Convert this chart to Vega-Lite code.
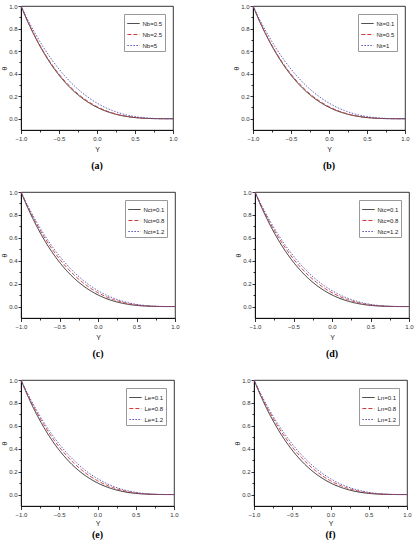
{
"$schema":"https://vega.github.io/schema/vega-lite/v6.json",
"padding":{"left":0,"top":2,"right":0,"bottom":0},
"background":"white",
"config":{"font":"Liberation Sans","view":{"stroke":"black","strokeWidth":0.8},
"axis":{"domainColor":"black","domainWidth":0.8,"tickColor":"black","tickWidth":0.8,"grid":false,"labelFontSize":6,"labelColor":"#333","labelFont":"Liberation Sans","titleFont":"Liberation Sans","titleFontSize":7,"titleFontWeight":"normal","titleColor":"#222","labelOverlap":false,"labelFlush":false,"labelBound":false,"labelPadding":1.5},
"legend":{"title":null,"orient":"top-right","offset":8,"padding":2.5,"strokeColor":"#999","fillColor":"white","symbolType":"stroke","symbolSize":150,"symbolStrokeWidth":1,"labelFontSize":6,"labelColor":"#222","rowPadding":1,"labelOffset":2}},
"datasets":{
"a":[
{"s":"Nb=0.5","Y":-1,"v":1},{"s":"Nb=0.5","Y":-0.9,"v":0.8443},{"s":"Nb=0.5","Y":-0.8,"v":0.7063},{"s":"Nb=0.5","Y":-0.7,"v":0.5849},{"s":"Nb=0.5","Y":-0.6,"v":0.4788},{"s":"Nb=0.5","Y":-0.5,"v":0.387},{"s":"Nb=0.5","Y":-0.4,"v":0.3082},{"s":"Nb=0.5","Y":-0.3,"v":0.2413},{"s":"Nb=0.5","Y":-0.2,"v":0.1853},{"s":"Nb=0.5","Y":-0.1,"v":0.1391},{"s":"Nb=0.5","Y":0,"v":0.1015},{"s":"Nb=0.5","Y":0.1,"v":0.0717},{"s":"Nb=0.5","Y":0.2,"v":0.0486},{"s":"Nb=0.5","Y":0.3,"v":0.0313},{"s":"Nb=0.5","Y":0.4,"v":0.0188},{"s":"Nb=0.5","Y":0.5,"v":0.0103},{"s":"Nb=0.5","Y":0.6,"v":0.0049},{"s":"Nb=0.5","Y":0.7,"v":0.0019},{"s":"Nb=0.5","Y":0.8,"v":0.0005},{"s":"Nb=0.5","Y":0.9,"v":0},{"s":"Nb=0.5","Y":1,"v":0},
{"s":"Nb=2.5","Y":-1,"v":1},{"s":"Nb=2.5","Y":-0.9,"v":0.8477},{"s":"Nb=2.5","Y":-0.8,"v":0.7123},{"s":"Nb=2.5","Y":-0.7,"v":0.5926},{"s":"Nb=2.5","Y":-0.6,"v":0.4875},{"s":"Nb=2.5","Y":-0.5,"v":0.396},{"s":"Nb=2.5","Y":-0.4,"v":0.3171},{"s":"Nb=2.5","Y":-0.3,"v":0.2498},{"s":"Nb=2.5","Y":-0.2,"v":0.193},{"s":"Nb=2.5","Y":-0.1,"v":0.1459},{"s":"Nb=2.5","Y":0,"v":0.1073},{"s":"Nb=2.5","Y":0.1,"v":0.0764},{"s":"Nb=2.5","Y":0.2,"v":0.0523},{"s":"Nb=2.5","Y":0.3,"v":0.034},{"s":"Nb=2.5","Y":0.4,"v":0.0207},{"s":"Nb=2.5","Y":0.5,"v":0.0115},{"s":"Nb=2.5","Y":0.6,"v":0.0056},{"s":"Nb=2.5","Y":0.7,"v":0.0022},{"s":"Nb=2.5","Y":0.8,"v":0.0006},{"s":"Nb=2.5","Y":0.9,"v":0.0001},{"s":"Nb=2.5","Y":1,"v":0},
{"s":"Nb=5","Y":-1,"v":1},{"s":"Nb=5","Y":-0.9,"v":0.864},{"s":"Nb=5","Y":-0.8,"v":0.7406},{"s":"Nb=5","Y":-0.7,"v":0.6293},{"s":"Nb=5","Y":-0.6,"v":0.5294},{"s":"Nb=5","Y":-0.5,"v":0.4405},{"s":"Nb=5","Y":-0.4,"v":0.3619},{"s":"Nb=5","Y":-0.3,"v":0.293},{"s":"Nb=5","Y":-0.2,"v":0.2332},{"s":"Nb=5","Y":-0.1,"v":0.182},{"s":"Nb=5","Y":0,"v":0.1387},{"s":"Nb=5","Y":0.1,"v":0.1027},{"s":"Nb=5","Y":0.2,"v":0.0734},{"s":"Nb=5","Y":0.3,"v":0.0502},{"s":"Nb=5","Y":0.4,"v":0.0323},{"s":"Nb=5","Y":0.5,"v":0.0192},{"s":"Nb=5","Y":0.6,"v":0.0102},{"s":"Nb=5","Y":0.7,"v":0.0045},{"s":"Nb=5","Y":0.8,"v":0.0014},{"s":"Nb=5","Y":0.9,"v":0.0002},{"s":"Nb=5","Y":1,"v":0}
],
"b":[
{"s":"Nt=0.1","Y":-1,"v":1},{"s":"Nt=0.1","Y":-0.9,"v":0.8443},{"s":"Nt=0.1","Y":-0.8,"v":0.7063},{"s":"Nt=0.1","Y":-0.7,"v":0.5849},{"s":"Nt=0.1","Y":-0.6,"v":0.4788},{"s":"Nt=0.1","Y":-0.5,"v":0.387},{"s":"Nt=0.1","Y":-0.4,"v":0.3082},{"s":"Nt=0.1","Y":-0.3,"v":0.2413},{"s":"Nt=0.1","Y":-0.2,"v":0.1853},{"s":"Nt=0.1","Y":-0.1,"v":0.1391},{"s":"Nt=0.1","Y":0,"v":0.1015},{"s":"Nt=0.1","Y":0.1,"v":0.0717},{"s":"Nt=0.1","Y":0.2,"v":0.0486},{"s":"Nt=0.1","Y":0.3,"v":0.0313},{"s":"Nt=0.1","Y":0.4,"v":0.0188},{"s":"Nt=0.1","Y":0.5,"v":0.0103},{"s":"Nt=0.1","Y":0.6,"v":0.0049},{"s":"Nt=0.1","Y":0.7,"v":0.0019},{"s":"Nt=0.1","Y":0.8,"v":0.0005},{"s":"Nt=0.1","Y":0.9,"v":0},{"s":"Nt=0.1","Y":1,"v":0},
{"s":"Nt=0.5","Y":-1,"v":1},{"s":"Nt=0.5","Y":-0.9,"v":0.8477},{"s":"Nt=0.5","Y":-0.8,"v":0.7123},{"s":"Nt=0.5","Y":-0.7,"v":0.5926},{"s":"Nt=0.5","Y":-0.6,"v":0.4875},{"s":"Nt=0.5","Y":-0.5,"v":0.396},{"s":"Nt=0.5","Y":-0.4,"v":0.3171},{"s":"Nt=0.5","Y":-0.3,"v":0.2498},{"s":"Nt=0.5","Y":-0.2,"v":0.193},{"s":"Nt=0.5","Y":-0.1,"v":0.1459},{"s":"Nt=0.5","Y":0,"v":0.1073},{"s":"Nt=0.5","Y":0.1,"v":0.0764},{"s":"Nt=0.5","Y":0.2,"v":0.0523},{"s":"Nt=0.5","Y":0.3,"v":0.034},{"s":"Nt=0.5","Y":0.4,"v":0.0207},{"s":"Nt=0.5","Y":0.5,"v":0.0115},{"s":"Nt=0.5","Y":0.6,"v":0.0056},{"s":"Nt=0.5","Y":0.7,"v":0.0022},{"s":"Nt=0.5","Y":0.8,"v":0.0006},{"s":"Nt=0.5","Y":0.9,"v":0.0001},{"s":"Nt=0.5","Y":1,"v":0},
{"s":"Nt=1","Y":-1,"v":1},{"s":"Nt=1","Y":-0.9,"v":0.864},{"s":"Nt=1","Y":-0.8,"v":0.7406},{"s":"Nt=1","Y":-0.7,"v":0.6293},{"s":"Nt=1","Y":-0.6,"v":0.5294},{"s":"Nt=1","Y":-0.5,"v":0.4405},{"s":"Nt=1","Y":-0.4,"v":0.3619},{"s":"Nt=1","Y":-0.3,"v":0.293},{"s":"Nt=1","Y":-0.2,"v":0.2332},{"s":"Nt=1","Y":-0.1,"v":0.182},{"s":"Nt=1","Y":0,"v":0.1387},{"s":"Nt=1","Y":0.1,"v":0.1027},{"s":"Nt=1","Y":0.2,"v":0.0734},{"s":"Nt=1","Y":0.3,"v":0.0502},{"s":"Nt=1","Y":0.4,"v":0.0323},{"s":"Nt=1","Y":0.5,"v":0.0192},{"s":"Nt=1","Y":0.6,"v":0.0102},{"s":"Nt=1","Y":0.7,"v":0.0045},{"s":"Nt=1","Y":0.8,"v":0.0014},{"s":"Nt=1","Y":0.9,"v":0.0002},{"s":"Nt=1","Y":1,"v":0}
],
"c":[
{"s":"Nct=0.1","Y":-1,"v":1},{"s":"Nct=0.1","Y":-0.9,"v":0.8443},{"s":"Nct=0.1","Y":-0.8,"v":0.7063},{"s":"Nct=0.1","Y":-0.7,"v":0.5849},{"s":"Nct=0.1","Y":-0.6,"v":0.4788},{"s":"Nct=0.1","Y":-0.5,"v":0.387},{"s":"Nct=0.1","Y":-0.4,"v":0.3082},{"s":"Nct=0.1","Y":-0.3,"v":0.2413},{"s":"Nct=0.1","Y":-0.2,"v":0.1853},{"s":"Nct=0.1","Y":-0.1,"v":0.1391},{"s":"Nct=0.1","Y":0,"v":0.1015},{"s":"Nct=0.1","Y":0.1,"v":0.0717},{"s":"Nct=0.1","Y":0.2,"v":0.0486},{"s":"Nct=0.1","Y":0.3,"v":0.0313},{"s":"Nct=0.1","Y":0.4,"v":0.0188},{"s":"Nct=0.1","Y":0.5,"v":0.0103},{"s":"Nct=0.1","Y":0.6,"v":0.0049},{"s":"Nct=0.1","Y":0.7,"v":0.0019},{"s":"Nct=0.1","Y":0.8,"v":0.0005},{"s":"Nct=0.1","Y":0.9,"v":0},{"s":"Nct=0.1","Y":1,"v":0},
{"s":"Nct=0.8","Y":-1,"v":1},{"s":"Nct=0.8","Y":-0.9,"v":0.8552},{"s":"Nct=0.8","Y":-0.8,"v":0.7252},{"s":"Nct=0.8","Y":-0.7,"v":0.6091},{"s":"Nct=0.8","Y":-0.6,"v":0.5063},{"s":"Nct=0.8","Y":-0.5,"v":0.4149},{"s":"Nct=0.8","Y":-0.4,"v":0.3369},{"s":"Nct=0.8","Y":-0.3,"v":0.2688},{"s":"Nct=0.8","Y":-0.2,"v":0.2106},{"s":"Nct=0.8","Y":-0.1,"v":0.1615},{"s":"Nct=0.8","Y":0,"v":0.1207},{"s":"Nct=0.8","Y":0.1,"v":0.0876},{"s":"Nct=0.8","Y":0.2,"v":0.0611},{"s":"Nct=0.8","Y":0.3,"v":0.0407},{"s":"Nct=0.8","Y":0.4,"v":0.0254},{"s":"Nct=0.8","Y":0.5,"v":0.0146},{"s":"Nct=0.8","Y":0.6,"v":0.0074},{"s":"Nct=0.8","Y":0.7,"v":0.0031},{"s":"Nct=0.8","Y":0.8,"v":0.0009},{"s":"Nct=0.8","Y":0.9,"v":0.0001},{"s":"Nct=0.8","Y":1,"v":0},
{"s":"Nct=1.2","Y":-1,"v":1},{"s":"Nct=1.2","Y":-0.9,"v":0.864},{"s":"Nct=1.2","Y":-0.8,"v":0.7406},{"s":"Nct=1.2","Y":-0.7,"v":0.6293},{"s":"Nct=1.2","Y":-0.6,"v":0.5294},{"s":"Nct=1.2","Y":-0.5,"v":0.4405},{"s":"Nct=1.2","Y":-0.4,"v":0.3619},{"s":"Nct=1.2","Y":-0.3,"v":0.293},{"s":"Nct=1.2","Y":-0.2,"v":0.2332},{"s":"Nct=1.2","Y":-0.1,"v":0.182},{"s":"Nct=1.2","Y":0,"v":0.1387},{"s":"Nct=1.2","Y":0.1,"v":0.1027},{"s":"Nct=1.2","Y":0.2,"v":0.0734},{"s":"Nct=1.2","Y":0.3,"v":0.0502},{"s":"Nct=1.2","Y":0.4,"v":0.0323},{"s":"Nct=1.2","Y":0.5,"v":0.0192},{"s":"Nct=1.2","Y":0.6,"v":0.0102},{"s":"Nct=1.2","Y":0.7,"v":0.0045},{"s":"Nct=1.2","Y":0.8,"v":0.0014},{"s":"Nct=1.2","Y":0.9,"v":0.0002},{"s":"Nct=1.2","Y":1,"v":0}
],
"d":[
{"s":"Ntc=0.1","Y":-1,"v":1},{"s":"Ntc=0.1","Y":-0.9,"v":0.8443},{"s":"Ntc=0.1","Y":-0.8,"v":0.7063},{"s":"Ntc=0.1","Y":-0.7,"v":0.5849},{"s":"Ntc=0.1","Y":-0.6,"v":0.4788},{"s":"Ntc=0.1","Y":-0.5,"v":0.387},{"s":"Ntc=0.1","Y":-0.4,"v":0.3082},{"s":"Ntc=0.1","Y":-0.3,"v":0.2413},{"s":"Ntc=0.1","Y":-0.2,"v":0.1853},{"s":"Ntc=0.1","Y":-0.1,"v":0.1391},{"s":"Ntc=0.1","Y":0,"v":0.1015},{"s":"Ntc=0.1","Y":0.1,"v":0.0717},{"s":"Ntc=0.1","Y":0.2,"v":0.0486},{"s":"Ntc=0.1","Y":0.3,"v":0.0313},{"s":"Ntc=0.1","Y":0.4,"v":0.0188},{"s":"Ntc=0.1","Y":0.5,"v":0.0103},{"s":"Ntc=0.1","Y":0.6,"v":0.0049},{"s":"Ntc=0.1","Y":0.7,"v":0.0019},{"s":"Ntc=0.1","Y":0.8,"v":0.0005},{"s":"Ntc=0.1","Y":0.9,"v":0},{"s":"Ntc=0.1","Y":1,"v":0},
{"s":"Ntc=0.8","Y":-1,"v":1},{"s":"Ntc=0.8","Y":-0.9,"v":0.8552},{"s":"Ntc=0.8","Y":-0.8,"v":0.7252},{"s":"Ntc=0.8","Y":-0.7,"v":0.6091},{"s":"Ntc=0.8","Y":-0.6,"v":0.5063},{"s":"Ntc=0.8","Y":-0.5,"v":0.4149},{"s":"Ntc=0.8","Y":-0.4,"v":0.3369},{"s":"Ntc=0.8","Y":-0.3,"v":0.2688},{"s":"Ntc=0.8","Y":-0.2,"v":0.2106},{"s":"Ntc=0.8","Y":-0.1,"v":0.1615},{"s":"Ntc=0.8","Y":0,"v":0.1207},{"s":"Ntc=0.8","Y":0.1,"v":0.0876},{"s":"Ntc=0.8","Y":0.2,"v":0.0611},{"s":"Ntc=0.8","Y":0.3,"v":0.0407},{"s":"Ntc=0.8","Y":0.4,"v":0.0254},{"s":"Ntc=0.8","Y":0.5,"v":0.0146},{"s":"Ntc=0.8","Y":0.6,"v":0.0074},{"s":"Ntc=0.8","Y":0.7,"v":0.0031},{"s":"Ntc=0.8","Y":0.8,"v":0.0009},{"s":"Ntc=0.8","Y":0.9,"v":0.0001},{"s":"Ntc=0.8","Y":1,"v":0},
{"s":"Ntc=1.2","Y":-1,"v":1},{"s":"Ntc=1.2","Y":-0.9,"v":0.864},{"s":"Ntc=1.2","Y":-0.8,"v":0.7406},{"s":"Ntc=1.2","Y":-0.7,"v":0.6293},{"s":"Ntc=1.2","Y":-0.6,"v":0.5294},{"s":"Ntc=1.2","Y":-0.5,"v":0.4405},{"s":"Ntc=1.2","Y":-0.4,"v":0.3619},{"s":"Ntc=1.2","Y":-0.3,"v":0.293},{"s":"Ntc=1.2","Y":-0.2,"v":0.2332},{"s":"Ntc=1.2","Y":-0.1,"v":0.182},{"s":"Ntc=1.2","Y":0,"v":0.1387},{"s":"Ntc=1.2","Y":0.1,"v":0.1027},{"s":"Ntc=1.2","Y":0.2,"v":0.0734},{"s":"Ntc=1.2","Y":0.3,"v":0.0502},{"s":"Ntc=1.2","Y":0.4,"v":0.0323},{"s":"Ntc=1.2","Y":0.5,"v":0.0192},{"s":"Ntc=1.2","Y":0.6,"v":0.0102},{"s":"Ntc=1.2","Y":0.7,"v":0.0045},{"s":"Ntc=1.2","Y":0.8,"v":0.0014},{"s":"Ntc=1.2","Y":0.9,"v":0.0002},{"s":"Ntc=1.2","Y":1,"v":0}
],
"e":[
{"s":"Le=0.1","Y":-1,"v":1},{"s":"Le=0.1","Y":-0.9,"v":0.8443},{"s":"Le=0.1","Y":-0.8,"v":0.7063},{"s":"Le=0.1","Y":-0.7,"v":0.5849},{"s":"Le=0.1","Y":-0.6,"v":0.4788},{"s":"Le=0.1","Y":-0.5,"v":0.387},{"s":"Le=0.1","Y":-0.4,"v":0.3082},{"s":"Le=0.1","Y":-0.3,"v":0.2413},{"s":"Le=0.1","Y":-0.2,"v":0.1853},{"s":"Le=0.1","Y":-0.1,"v":0.1391},{"s":"Le=0.1","Y":0,"v":0.1015},{"s":"Le=0.1","Y":0.1,"v":0.0717},{"s":"Le=0.1","Y":0.2,"v":0.0486},{"s":"Le=0.1","Y":0.3,"v":0.0313},{"s":"Le=0.1","Y":0.4,"v":0.0188},{"s":"Le=0.1","Y":0.5,"v":0.0103},{"s":"Le=0.1","Y":0.6,"v":0.0049},{"s":"Le=0.1","Y":0.7,"v":0.0019},{"s":"Le=0.1","Y":0.8,"v":0.0005},{"s":"Le=0.1","Y":0.9,"v":0},{"s":"Le=0.1","Y":1,"v":0},
{"s":"Le=0.8","Y":-1,"v":1},{"s":"Le=0.8","Y":-0.9,"v":0.8552},{"s":"Le=0.8","Y":-0.8,"v":0.7252},{"s":"Le=0.8","Y":-0.7,"v":0.6091},{"s":"Le=0.8","Y":-0.6,"v":0.5063},{"s":"Le=0.8","Y":-0.5,"v":0.4149},{"s":"Le=0.8","Y":-0.4,"v":0.3369},{"s":"Le=0.8","Y":-0.3,"v":0.2688},{"s":"Le=0.8","Y":-0.2,"v":0.2106},{"s":"Le=0.8","Y":-0.1,"v":0.1615},{"s":"Le=0.8","Y":0,"v":0.1207},{"s":"Le=0.8","Y":0.1,"v":0.0876},{"s":"Le=0.8","Y":0.2,"v":0.0611},{"s":"Le=0.8","Y":0.3,"v":0.0407},{"s":"Le=0.8","Y":0.4,"v":0.0254},{"s":"Le=0.8","Y":0.5,"v":0.0146},{"s":"Le=0.8","Y":0.6,"v":0.0074},{"s":"Le=0.8","Y":0.7,"v":0.0031},{"s":"Le=0.8","Y":0.8,"v":0.0009},{"s":"Le=0.8","Y":0.9,"v":0.0001},{"s":"Le=0.8","Y":1,"v":0},
{"s":"Le=1.2","Y":-1,"v":1},{"s":"Le=1.2","Y":-0.9,"v":0.864},{"s":"Le=1.2","Y":-0.8,"v":0.7406},{"s":"Le=1.2","Y":-0.7,"v":0.6293},{"s":"Le=1.2","Y":-0.6,"v":0.5294},{"s":"Le=1.2","Y":-0.5,"v":0.4405},{"s":"Le=1.2","Y":-0.4,"v":0.3619},{"s":"Le=1.2","Y":-0.3,"v":0.293},{"s":"Le=1.2","Y":-0.2,"v":0.2332},{"s":"Le=1.2","Y":-0.1,"v":0.182},{"s":"Le=1.2","Y":0,"v":0.1387},{"s":"Le=1.2","Y":0.1,"v":0.1027},{"s":"Le=1.2","Y":0.2,"v":0.0734},{"s":"Le=1.2","Y":0.3,"v":0.0502},{"s":"Le=1.2","Y":0.4,"v":0.0323},{"s":"Le=1.2","Y":0.5,"v":0.0192},{"s":"Le=1.2","Y":0.6,"v":0.0102},{"s":"Le=1.2","Y":0.7,"v":0.0045},{"s":"Le=1.2","Y":0.8,"v":0.0014},{"s":"Le=1.2","Y":0.9,"v":0.0002},{"s":"Le=1.2","Y":1,"v":0}
],
"f":[
{"s":"Ln=0.1","Y":-1,"v":1},{"s":"Ln=0.1","Y":-0.9,"v":0.8443},{"s":"Ln=0.1","Y":-0.8,"v":0.7063},{"s":"Ln=0.1","Y":-0.7,"v":0.5849},{"s":"Ln=0.1","Y":-0.6,"v":0.4788},{"s":"Ln=0.1","Y":-0.5,"v":0.387},{"s":"Ln=0.1","Y":-0.4,"v":0.3082},{"s":"Ln=0.1","Y":-0.3,"v":0.2413},{"s":"Ln=0.1","Y":-0.2,"v":0.1853},{"s":"Ln=0.1","Y":-0.1,"v":0.1391},{"s":"Ln=0.1","Y":0,"v":0.1015},{"s":"Ln=0.1","Y":0.1,"v":0.0717},{"s":"Ln=0.1","Y":0.2,"v":0.0486},{"s":"Ln=0.1","Y":0.3,"v":0.0313},{"s":"Ln=0.1","Y":0.4,"v":0.0188},{"s":"Ln=0.1","Y":0.5,"v":0.0103},{"s":"Ln=0.1","Y":0.6,"v":0.0049},{"s":"Ln=0.1","Y":0.7,"v":0.0019},{"s":"Ln=0.1","Y":0.8,"v":0.0005},{"s":"Ln=0.1","Y":0.9,"v":0},{"s":"Ln=0.1","Y":1,"v":0},
{"s":"Ln=0.8","Y":-1,"v":1},{"s":"Ln=0.8","Y":-0.9,"v":0.8552},{"s":"Ln=0.8","Y":-0.8,"v":0.7252},{"s":"Ln=0.8","Y":-0.7,"v":0.6091},{"s":"Ln=0.8","Y":-0.6,"v":0.5063},{"s":"Ln=0.8","Y":-0.5,"v":0.4149},{"s":"Ln=0.8","Y":-0.4,"v":0.3369},{"s":"Ln=0.8","Y":-0.3,"v":0.2688},{"s":"Ln=0.8","Y":-0.2,"v":0.2106},{"s":"Ln=0.8","Y":-0.1,"v":0.1615},{"s":"Ln=0.8","Y":0,"v":0.1207},{"s":"Ln=0.8","Y":0.1,"v":0.0876},{"s":"Ln=0.8","Y":0.2,"v":0.0611},{"s":"Ln=0.8","Y":0.3,"v":0.0407},{"s":"Ln=0.8","Y":0.4,"v":0.0254},{"s":"Ln=0.8","Y":0.5,"v":0.0146},{"s":"Ln=0.8","Y":0.6,"v":0.0074},{"s":"Ln=0.8","Y":0.7,"v":0.0031},{"s":"Ln=0.8","Y":0.8,"v":0.0009},{"s":"Ln=0.8","Y":0.9,"v":0.0001},{"s":"Ln=0.8","Y":1,"v":0},
{"s":"Ln=1.2","Y":-1,"v":1},{"s":"Ln=1.2","Y":-0.9,"v":0.864},{"s":"Ln=1.2","Y":-0.8,"v":0.7406},{"s":"Ln=1.2","Y":-0.7,"v":0.6293},{"s":"Ln=1.2","Y":-0.6,"v":0.5294},{"s":"Ln=1.2","Y":-0.5,"v":0.4405},{"s":"Ln=1.2","Y":-0.4,"v":0.3619},{"s":"Ln=1.2","Y":-0.3,"v":0.293},{"s":"Ln=1.2","Y":-0.2,"v":0.2332},{"s":"Ln=1.2","Y":-0.1,"v":0.182},{"s":"Ln=1.2","Y":0,"v":0.1387},{"s":"Ln=1.2","Y":0.1,"v":0.1027},{"s":"Ln=1.2","Y":0.2,"v":0.0734},{"s":"Ln=1.2","Y":0.3,"v":0.0502},{"s":"Ln=1.2","Y":0.4,"v":0.0323},{"s":"Ln=1.2","Y":0.5,"v":0.0192},{"s":"Ln=1.2","Y":0.6,"v":0.0102},{"s":"Ln=1.2","Y":0.7,"v":0.0045},{"s":"Ln=1.2","Y":0.8,"v":0.0014},{"s":"Ln=1.2","Y":0.9,"v":0.0002},{"s":"Ln=1.2","Y":1,"v":0}
]
},
"spacing":16,
"resolve":{"scale":{"color":"independent","strokeDash":"independent"},"legend":{"color":"independent","strokeDash":"independent"}},
"vconcat":[
{"hconcat":[
{"width":152,"height":124,"data":{"name":"a"},"mark":{"type":"line","strokeWidth":0.9,"interpolate":"monotone"},
"encoding":{
"x":{"field":"Y","type":"quantitative","title":"Y","scale":{"domain":[-1,1],"nice":false,"zero":false},"axis":{"values":[-1,-0.75,-0.5,-0.25,0,0.25,0.5,0.75,1],"labelExpr":"abs(datum.value*2-round(datum.value*2))<0.01 ? format(datum.value,'.1f') : ''","tickSize":{"condition":{"test":"abs(datum.value*2-round(datum.value*2))>0.01","value":2},"value":3.5},"titlePadding":4}},
"y":{"field":"v","type":"quantitative","title":"θ","scale":{"domain":[-0.1,1],"nice":false,"zero":false},"axis":{"values":[0,0.1,0.2,0.3,0.4,0.5,0.6,0.7,0.8,0.9,1],"labelExpr":"round(datum.value*10)%2==0 ? format(datum.value,'.1f') : ''","tickSize":{"condition":{"test":"round(datum.value*10)%2==1","value":2},"value":3},"titlePadding":1,"labelPadding":1}},
"color":{"field":"s","type":"nominal","scale":{"domain":["Nb=0.5","Nb=2.5","Nb=5"],"range":["#1a1a1a","#d03a3a","#5050b8"]}},
"strokeDash":{"field":"s","type":"nominal","scale":{"domain":["Nb=0.5","Nb=2.5","Nb=5"],"range":[[1,0],[4,2],[1.5,1.5]]}}},
"title":{"text":"(a)","orient":"bottom","frame":"group","anchor":"middle","font":"Liberation Serif","fontSize":10,"fontWeight":"bold","offset":9,"color":"black"}},
{"width":152,"height":124,"data":{"name":"b"},"mark":{"type":"line","strokeWidth":0.9,"interpolate":"monotone"},
"encoding":{
"x":{"field":"Y","type":"quantitative","title":"Y","scale":{"domain":[-1,1],"nice":false,"zero":false},"axis":{"values":[-1,-0.75,-0.5,-0.25,0,0.25,0.5,0.75,1],"labelExpr":"abs(datum.value*2-round(datum.value*2))<0.01 ? format(datum.value,'.1f') : ''","tickSize":{"condition":{"test":"abs(datum.value*2-round(datum.value*2))>0.01","value":2},"value":3.5},"titlePadding":4}},
"y":{"field":"v","type":"quantitative","title":"θ","scale":{"domain":[-0.1,1],"nice":false,"zero":false},"axis":{"values":[0,0.1,0.2,0.3,0.4,0.5,0.6,0.7,0.8,0.9,1],"labelExpr":"round(datum.value*10)%2==0 ? format(datum.value,'.1f') : ''","tickSize":{"condition":{"test":"round(datum.value*10)%2==1","value":2},"value":3},"titlePadding":1,"labelPadding":1}},
"color":{"field":"s","type":"nominal","scale":{"domain":["Nt=0.1","Nt=0.5","Nt=1"],"range":["#1a1a1a","#d03a3a","#5050b8"]}},
"strokeDash":{"field":"s","type":"nominal","scale":{"domain":["Nt=0.1","Nt=0.5","Nt=1"],"range":[[1,0],[4,2],[1.5,1.5]]}}},
"title":{"text":"(b)","orient":"bottom","frame":"group","anchor":"middle","font":"Liberation Serif","fontSize":10,"fontWeight":"bold","offset":9,"color":"black"}}
],"spacing":54,"resolve":{"scale":{"color":"independent","strokeDash":"independent"},"legend":{"color":"independent","strokeDash":"independent"}}},
{"hconcat":[
{"width":154,"height":126,"data":{"name":"c"},"mark":{"type":"line","strokeWidth":0.9,"interpolate":"monotone"},
"encoding":{
"x":{"field":"Y","type":"quantitative","title":"Y","scale":{"domain":[-1,1],"nice":false,"zero":false},"axis":{"values":[-1,-0.75,-0.5,-0.25,0,0.25,0.5,0.75,1],"labelExpr":"abs(datum.value*2-round(datum.value*2))<0.01 ? format(datum.value,'.1f') : ''","tickSize":{"condition":{"test":"abs(datum.value*2-round(datum.value*2))>0.01","value":2},"value":3.5},"titlePadding":4}},
"y":{"field":"v","type":"quantitative","title":"θ","scale":{"domain":[-0.1,1],"nice":false,"zero":false},"axis":{"values":[0,0.1,0.2,0.3,0.4,0.5,0.6,0.7,0.8,0.9,1],"labelExpr":"round(datum.value*10)%2==0 ? format(datum.value,'.1f') : ''","tickSize":{"condition":{"test":"round(datum.value*10)%2==1","value":2},"value":3},"titlePadding":1,"labelPadding":1}},
"color":{"field":"s","type":"nominal","scale":{"domain":["Nct=0.1","Nct=0.8","Nct=1.2"],"range":["#1a1a1a","#d03a3a","#5050b8"]}},
"strokeDash":{"field":"s","type":"nominal","scale":{"domain":["Nct=0.1","Nct=0.8","Nct=1.2"],"range":[[1,0],[4,2],[1.5,1.5]]}}},
"title":{"text":"(c)","orient":"bottom","frame":"group","anchor":"middle","font":"Liberation Serif","fontSize":10,"fontWeight":"bold","offset":9,"color":"black"}},
{"width":154,"height":126,"data":{"name":"d"},"mark":{"type":"line","strokeWidth":0.9,"interpolate":"monotone"},
"encoding":{
"x":{"field":"Y","type":"quantitative","title":"Y","scale":{"domain":[-1,1],"nice":false,"zero":false},"axis":{"values":[-1,-0.75,-0.5,-0.25,0,0.25,0.5,0.75,1],"labelExpr":"abs(datum.value*2-round(datum.value*2))<0.01 ? format(datum.value,'.1f') : ''","tickSize":{"condition":{"test":"abs(datum.value*2-round(datum.value*2))>0.01","value":2},"value":3.5},"titlePadding":4}},
"y":{"field":"v","type":"quantitative","title":"θ","scale":{"domain":[-0.1,1],"nice":false,"zero":false},"axis":{"values":[0,0.1,0.2,0.3,0.4,0.5,0.6,0.7,0.8,0.9,1],"labelExpr":"round(datum.value*10)%2==0 ? format(datum.value,'.1f') : ''","tickSize":{"condition":{"test":"round(datum.value*10)%2==1","value":2},"value":3},"titlePadding":1,"labelPadding":1}},
"color":{"field":"s","type":"nominal","scale":{"domain":["Ntc=0.1","Ntc=0.8","Ntc=1.2"],"range":["#1a1a1a","#d03a3a","#5050b8"]}},
"strokeDash":{"field":"s","type":"nominal","scale":{"domain":["Ntc=0.1","Ntc=0.8","Ntc=1.2"],"range":[[1,0],[4,2],[1.5,1.5]]}}},
"title":{"text":"(d)","orient":"bottom","frame":"group","anchor":"middle","font":"Liberation Serif","fontSize":10,"fontWeight":"bold","offset":9,"color":"black"}}
],"spacing":54,"resolve":{"scale":{"color":"independent","strokeDash":"independent"},"legend":{"color":"independent","strokeDash":"independent"}}},
{"hconcat":[
{"width":153,"height":126,"data":{"name":"e"},"mark":{"type":"line","strokeWidth":0.9,"interpolate":"monotone"},
"encoding":{
"x":{"field":"Y","type":"quantitative","title":"Y","scale":{"domain":[-1,1],"nice":false,"zero":false},"axis":{"values":[-1,-0.75,-0.5,-0.25,0,0.25,0.5,0.75,1],"labelExpr":"abs(datum.value*2-round(datum.value*2))<0.01 ? format(datum.value,'.1f') : ''","tickSize":{"condition":{"test":"abs(datum.value*2-round(datum.value*2))>0.01","value":2},"value":3.5},"titlePadding":2}},
"y":{"field":"v","type":"quantitative","title":"θ","scale":{"domain":[-0.1,1],"nice":false,"zero":false},"axis":{"values":[0,0.1,0.2,0.3,0.4,0.5,0.6,0.7,0.8,0.9,1],"labelExpr":"round(datum.value*10)%2==0 ? format(datum.value,'.1f') : ''","tickSize":{"condition":{"test":"round(datum.value*10)%2==1","value":2},"value":3},"titlePadding":1,"labelPadding":1}},
"color":{"field":"s","type":"nominal","scale":{"domain":["Le=0.1","Le=0.8","Le=1.2"],"range":["#1a1a1a","#d03a3a","#5050b8"]}},
"strokeDash":{"field":"s","type":"nominal","scale":{"domain":["Le=0.1","Le=0.8","Le=1.2"],"range":[[1,0],[4,2],[1.5,1.5]]}}},
"title":{"text":"(e)","orient":"bottom","frame":"group","anchor":"middle","font":"Liberation Serif","fontSize":10,"fontWeight":"bold","offset":4,"color":"black"}},
{"width":153,"height":126,"data":{"name":"f"},"mark":{"type":"line","strokeWidth":0.9,"interpolate":"monotone"},
"encoding":{
"x":{"field":"Y","type":"quantitative","title":"Y","scale":{"domain":[-1,1],"nice":false,"zero":false},"axis":{"values":[-1,-0.75,-0.5,-0.25,0,0.25,0.5,0.75,1],"labelExpr":"abs(datum.value*2-round(datum.value*2))<0.01 ? format(datum.value,'.1f') : ''","tickSize":{"condition":{"test":"abs(datum.value*2-round(datum.value*2))>0.01","value":2},"value":3.5},"titlePadding":2}},
"y":{"field":"v","type":"quantitative","title":"θ","scale":{"domain":[-0.1,1],"nice":false,"zero":false},"axis":{"values":[0,0.1,0.2,0.3,0.4,0.5,0.6,0.7,0.8,0.9,1],"labelExpr":"round(datum.value*10)%2==0 ? format(datum.value,'.1f') : ''","tickSize":{"condition":{"test":"round(datum.value*10)%2==1","value":2},"value":3},"titlePadding":1,"labelPadding":1}},
"color":{"field":"s","type":"nominal","scale":{"domain":["Ln=0.1","Ln=0.8","Ln=1.2"],"range":["#1a1a1a","#d03a3a","#5050b8"]}},
"strokeDash":{"field":"s","type":"nominal","scale":{"domain":["Ln=0.1","Ln=0.8","Ln=1.2"],"range":[[1,0],[4,2],[1.5,1.5]]}}},
"title":{"text":"(f)","orient":"bottom","frame":"group","anchor":"middle","font":"Liberation Serif","fontSize":10,"fontWeight":"bold","offset":4,"color":"black"}}
],"spacing":54,"resolve":{"scale":{"color":"independent","strokeDash":"independent"},"legend":{"color":"independent","strokeDash":"independent"}}}
]
}
